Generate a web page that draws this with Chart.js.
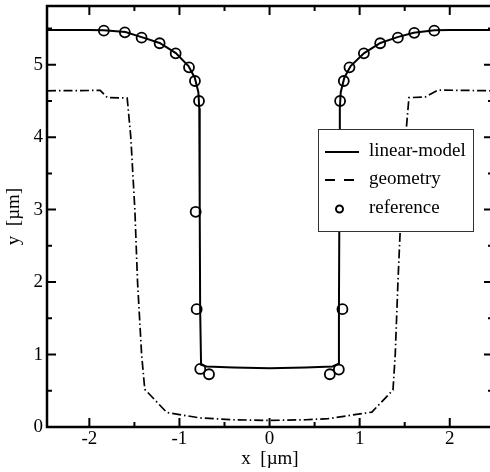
<!DOCTYPE html>
<html>
<head>
<meta charset="utf-8">
<script src="https://cdn.jsdelivr.net/npm/chart.js@4"></script>
<style>
  html, body { margin: 0; padding: 0; background: #fff; overflow: hidden; }
  /* the right frame of the plot sits just past the window edge */
  #wrap { width: 493px; height: 472px; }
</style>
</head>
<body>
<div id="wrap"><canvas id="chart"></canvas></div>
<script>
// values, in µm
const modelX = [-2.47, -2.0, -1.84, -1.6, -1.42, -1.22, -1.04, -0.9, -0.83, -0.79, -0.78, -0.775, -0.77, -0.76, -0.7, -0.4, 0, 0.4, 0.7, 0.76, 0.77, 0.775, 0.78, 0.79, 0.83, 0.9, 1.05, 1.23, 1.42, 1.6, 1.83, 2.0, 2.48];
const modelY = [5.48, 5.48, 5.475, 5.45, 5.38, 5.30, 5.16, 4.98, 4.82, 4.62, 4.4, 3.0, 1.6, 0.86, 0.835, 0.82, 0.81, 0.82, 0.835, 0.87, 1.6, 3.0, 4.4, 4.62, 4.82, 4.98, 5.16, 5.30, 5.38, 5.44, 5.475, 5.48, 5.48];

const geomX = [-2.47, -1.88, -1.80, -1.58, -1.54, -1.495, -1.465, -1.42, -1.385, -1.14, -0.77, -0.4, 0, 0.4, 0.65, 1.135, 1.37, 1.395, 1.425, 1.46, 1.51, 1.547, 1.73, 1.87, 2.48];
const geomY = [4.64, 4.645, 4.545, 4.54, 4.0, 3.0, 2.0, 1.0, 0.52, 0.2, 0.125, 0.1, 0.09, 0.1, 0.115, 0.205, 0.51, 1.0, 2.0, 3.0, 4.0, 4.545, 4.555, 4.65, 4.64];

const refX = [-1.839, -1.606, -1.42, -1.22, -1.042, -0.894, -0.828, -0.783, -0.82, -0.809, -0.769, -0.672, 0.669, 0.769, 0.809, 0.794, 0.783, 0.824, 0.887, 1.047, 1.228, 1.424, 1.606, 1.828];
const refY = [5.47, 5.447, 5.373, 5.296, 5.157, 4.964, 4.775, 4.499, 2.97, 1.626, 0.801, 0.728, 0.728, 0.793, 1.626, 2.97, 4.499, 4.775, 4.964, 5.157, 5.296, 5.373, 5.44, 5.47];

const xMajor = [-2, -1, 0, 1, 2];
const xMinor = [-1.5, -0.5, 0.5, 1.5];
const yMajor = [0, 1, 2, 3, 4, 5];
const yMinor = [0.5, 1.5, 2.5, 3.5, 4.5, 5.5];

const seriesNames = ['linear-model', 'geometry', 'reference'];

const serif = 'Liberation Serif';
const fontSize = 19;

function toPoints(xs, ys) {
    return xs.map((x, i) => ({ x: x, y: ys[i] }));
}

// keep the plot box where the reference has it
function noPadding(s) {
    s.paddingTop = 0;
    s.paddingBottom = 0;
    s.paddingLeft = 0;
    s.paddingRight = 0;
}

// inward ticks on all four sides, frame and the boxed legend
const framePlugin = {
    id: 'frame',
    afterDraw(chart) {
        const ctx = chart.ctx;
        const area = chart.chartArea;
        const xs = chart.scales.x;
        const ys = chart.scales.y;
        ctx.save();
        ctx.strokeStyle = '#000';
        ctx.lineWidth = 2;
        ctx.beginPath();
        const tick = (vals, len) => {
            vals.forEach(v => {
                const px = xs.getPixelForValue(v);
                ctx.moveTo(px, area.bottom); ctx.lineTo(px, area.bottom - len);
                ctx.moveTo(px, area.top); ctx.lineTo(px, area.top + len);
            });
        };
        const tickY = (vals, len) => {
            vals.forEach(v => {
                const py = ys.getPixelForValue(v);
                ctx.moveTo(area.left, py); ctx.lineTo(area.left + len, py);
                ctx.moveTo(area.right, py); ctx.lineTo(area.right - len, py);
            });
        };
        tick(xMajor, 9);
        tick(xMinor, 5);
        tickY(yMajor, 9);
        tickY(yMinor, 5);
        ctx.stroke();

        ctx.lineWidth = 2.5;
        ctx.strokeRect(area.left, area.top, area.right - area.left, area.bottom - area.top);

        // legend
        const bx = 318, by = 129, bw = 155, bh = 102;
        ctx.fillStyle = '#fff';
        ctx.fillRect(bx, by, bw, bh);
        ctx.lineWidth = 1;
        ctx.strokeStyle = '#333';
        ctx.strokeRect(bx + 0.5, by + 0.5, bw, bh);

        const rows = [152, 180, 209];
        ctx.strokeStyle = '#000';
        ctx.lineWidth = 2;
        ctx.beginPath();
        ctx.moveTo(325, rows[0]); ctx.lineTo(359, rows[0]);
        ctx.stroke();
        ctx.setLineDash([10, 9]);
        ctx.beginPath();
        ctx.moveTo(325, rows[1]); ctx.lineTo(356, rows[1]);
        ctx.stroke();
        ctx.setLineDash([]);
        ctx.lineWidth = 2;
        ctx.beginPath();
        ctx.arc(339.5, rows[2], 3.5, 0, Math.PI * 2);
        ctx.stroke();

        ctx.fillStyle = '#000';
        ctx.font = fontSize + 'px "' + serif + '"';
        ctx.textBaseline = 'middle';
        ctx.textAlign = 'left';
        seriesNames.forEach((name, i) => {
            ctx.fillText(name, 369, rows[i] - 1);
        });
        ctx.restore();
    }
};

const ctx = document.getElementById('chart').getContext('2d');
new Chart(ctx, {
    type: 'scatter',
    data: {
        datasets: [
            {
                label: seriesNames[0],
                data: toPoints(modelX, modelY),
                showLine: true,
                borderColor: '#000',
                borderWidth: 2,
                pointRadius: 0,
                tension: 0
            },
            {
                label: seriesNames[1],
                data: toPoints(geomX, geomY),
                showLine: true,
                borderColor: '#000',
                borderWidth: 1.7,
                borderDash: [9, 3, 1.5, 3],
                pointRadius: 0,
                tension: 0
            },
            {
                label: seriesNames[2],
                data: toPoints(refX, refY),
                showLine: false,
                pointRadius: 5,
                pointBorderWidth: 1.8,
                pointBorderColor: '#000',
                pointBackgroundColor: 'rgba(0,0,0,0)'
            }
        ]
    },
    options: {
        responsive: true,
        maintainAspectRatio: false,
        animation: false,
        layout: { autoPadding: false, padding: { top: 6, right: 0, left: 0, bottom: 0 } },
        plugins: {
            legend: { display: false },
            tooltip: { enabled: false }
        },
        scales: {
            x: {
                type: 'linear',
                min: -2.47,
                max: 2.48,
                grid: { display: false, drawTicks: false, tickLength: 0 },
                border: { display: false },
                ticks: {
                    stepSize: 1,
                    includeBounds: false,
                    color: '#000',
                    padding: 1,
                    font: { family: serif, size: fontSize }
                },
                title: {
                    display: true,
                    text: 'x  [µm]',
                    color: '#000',
                    padding: { top: 0, bottom: 2 },
                    font: { family: serif, size: fontSize }
                },
                afterFit: s => { s.height = 45; noPadding(s); }
            },
            y: {
                type: 'linear',
                min: 0,
                max: 5.81,
                grid: { display: false, drawTicks: false, tickLength: 0 },
                border: { display: false },
                ticks: {
                    stepSize: 1,
                    includeBounds: false,
                    color: '#000',
                    padding: 4,
                    font: { family: serif, size: fontSize }
                },
                title: {
                    display: true,
                    text: 'y  [µm]',
                    color: '#000',
                    padding: { top: 3, bottom: 0 },
                    font: { family: serif, size: fontSize }
                },
                afterFit: s => { s.width = 47; noPadding(s); }
            }
        }
    },
    plugins: [framePlugin]
});
</script>
</body>
</html>
